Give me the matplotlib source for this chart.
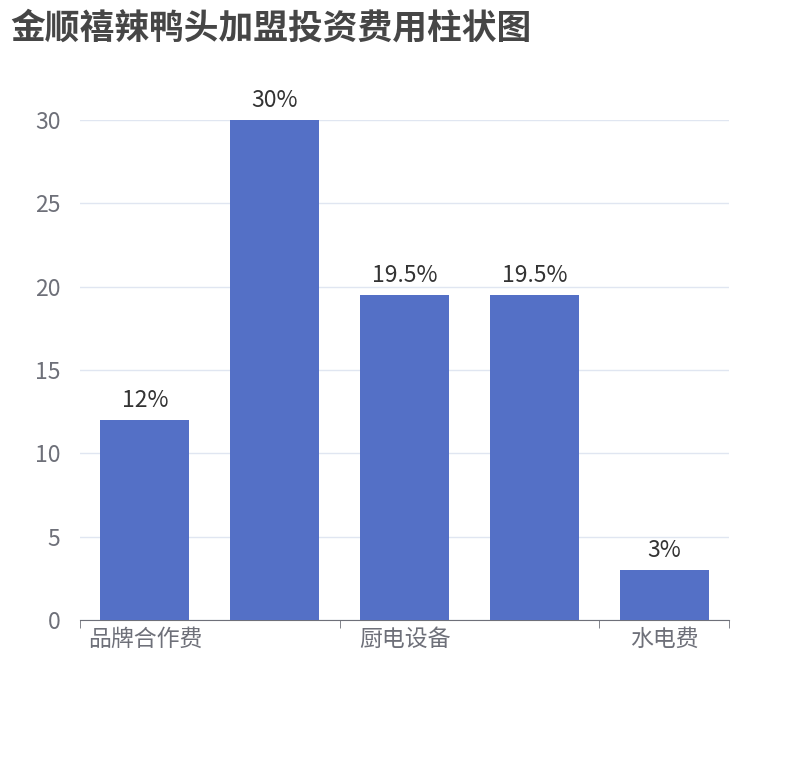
import matplotlib.pyplot as plt
import numpy as np

plt.rcParams['font.family'] = ['Noto Sans CJK SC', 'DejaVu Sans']

categories = ['品牌合作费', '装修费用', '厨电设备', '首批货款', '水电费']
values = [12, 30, 19.5, 19.5, 3]
labels = ['12%', '30%', '19.5%', '19.5%', '3%']

fig = plt.figure(figsize=(8.1, 7.6), dpi=100)
ax = fig.add_axes([80/810, 140/760, 649/810, 500/760])

x = np.arange(len(categories))
ax.bar(x, values, width=0.685, color='#5470c6', zorder=3)
for xi, v, t in zip(x, values, labels):
    ax.text(xi, v + 0.5, t, ha='center', va='bottom', fontsize=16.5, color='#333333')

ax.set_xlim(-0.5, len(categories) - 0.5)
ax.set_ylim(0, 30)
ax.set_yticks([0, 5, 10, 15, 20, 25, 30])
ax.grid(axis='y', color='#e0e6f1', linewidth=1, zorder=0)
ax.tick_params(axis='y', length=0, labelsize=16.5, labelcolor='#6e7079', pad=14)

# category labels shown every other one, ticks on boundaries
ax.set_xticks([0, 2, 4])
ax.set_xticklabels([categories[0], categories[2], categories[4]])
ax.tick_params(axis='x', length=0, labelsize=16.5, labelcolor='#6e7079', pad=6)
ax.set_xticks([-0.5, 1.5, 3.5, 4.5], minor=True)
ax.tick_params(axis='x', which='minor', length=6, color='#6e7079', direction='out')

for s in ['top', 'right', 'left']:
    ax.spines[s].set_visible(False)
ax.spines['bottom'].set_color('#6e7079')

fig.text(10/810, 1 - 28/760, '金顺禧辣鸭头加盟投资费用柱状图', fontsize=25, fontweight='bold',
         color='#464646', va='center', ha='left')

fig.savefig('out.png', dpi=100)
